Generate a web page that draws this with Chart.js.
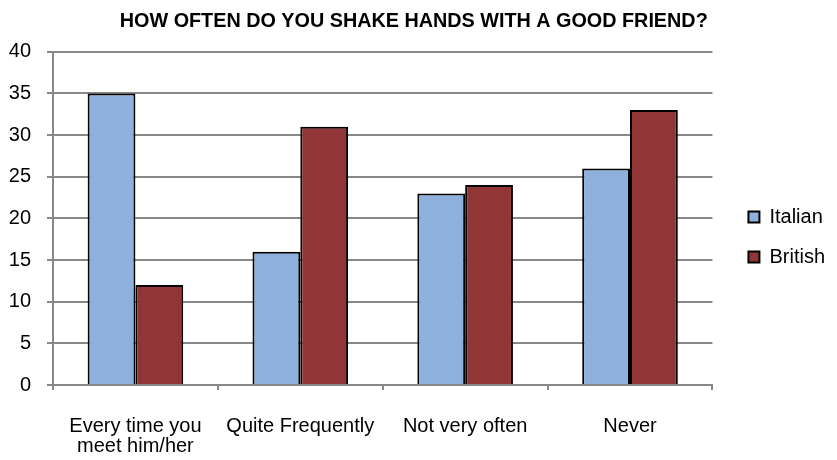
<!DOCTYPE html>
<html lang="en">
<head>
    <meta charset="UTF-8">
    <title>How often do you shake hands with a good friend?</title>
    <script src="https://cdn.jsdelivr.net/npm/chart.js"></script>
    <style>
        html, body { margin: 0; padding: 0; background: #fff; }
        .wrap { width: 837px; height: 460px; }
    </style>
</head>
<body>
    <div class="wrap"><canvas id="grafico"></canvas></div>
    <script>
        var categorias = [['Every time you', 'meet him/her'], 'Quite Frequently', 'Not very often', 'Never'];
        var italian = [35, 16, 23, 26];
        var british = [12, 31, 24, 33];
        var yTicks = [0, 5, 10, 15, 20, 25, 30, 35, 40];

        var fonte = 'Liberation Sans';

        var ctx = document.getElementById('grafico').getContext('2d');
        var grafico = new Chart(ctx, {
            type: 'bar',
            data: {
                labels: categorias,
                datasets: [{
                    label: 'Italian',
                    data: italian,
                    backgroundColor: '#8db0dc',
                    borderColor: '#000',
                    borderWidth: 2,
                    borderSkipped: 'bottom'
                }, {
                    label: 'British',
                    data: british,
                    backgroundColor: '#923536',
                    borderColor: '#000',
                    borderWidth: 2,
                    borderSkipped: 'bottom'
                }]
            },
            options: {
                responsive: true,
                maintainAspectRatio: false,
                animation: false,
                categoryPercentage: 0.58,
                barPercentage: 1.0,
                layout: { padding: { left: 9, right: 2, top: 2, bottom: 4 } },
                plugins: {
                    title: {
                        display: true,
                        // espaços no fim empurram o título um pouco para a esquerda
                        text: 'HOW OFTEN DO YOU SHAKE HANDS WITH A GOOD FRIEND?   ',
                        color: '#000',
                        font: { family: fonte, size: 19.8, weight: 'bold', lineHeight: 1.2 },
                        padding: { top: 8, bottom: 18 }
                    },
                    legend: {
                        position: 'right',
                        // título vazio só para baixar um pouco os itens
                        title: {
                            display: true,
                            text: '',
                            font: { size: 10, lineHeight: 1.2 },
                            padding: 2
                        },
                        labels: {
                            color: '#000',
                            font: { family: fonte, size: 20 },
                            boxWidth: 11,
                            boxHeight: 11,
                            padding: 20
                        }
                    },
                    tooltip: { enabled: false }
                },
                scales: {
                    x: {
                        grid: {
                            display: true,
                            drawOnChartArea: false,
                            drawTicks: true,
                            tickLength: 5,
                            color: '#888',
                            lineWidth: 2
                        },
                        border: { color: '#888', width: 2 },
                        ticks: {
                            color: '#000',
                            font: { family: fonte, size: 20, lineHeight: 1.0 },
                            padding: 26,
                            maxRotation: 0
                        },
                        // o fit conta o padding duas vezes; fixa a altura
                        afterFit: function (axis) { axis.height = 71; }
                    },
                    y: {
                        min: 0,
                        max: 40,
                        afterBuildTicks: function (axis) {
                            axis.ticks = yTicks.map(function (v) { return { value: v }; });
                        },
                        grid: {
                            color: '#888',
                            lineWidth: 2,
                            tickLength: 6
                        },
                        border: { color: '#888', width: 2 },
                        ticks: {
                            color: '#000',
                            font: { family: fonte, size: 20 },
                            padding: 16
                        },
                        afterFit: function (axis) { axis.width = 44; }
                    },
                    // eixo vazio so para abrir espaço entre o gráfico e a legenda
                    espaco: {
                        position: 'right',
                        display: true,
                        grid: { display: false },
                        border: { display: false },
                        ticks: { display: false },
                        afterFit: function (axis) { axis.width = 16; }
                    }
                }
            }
        });
    </script>
</body>
</html>
